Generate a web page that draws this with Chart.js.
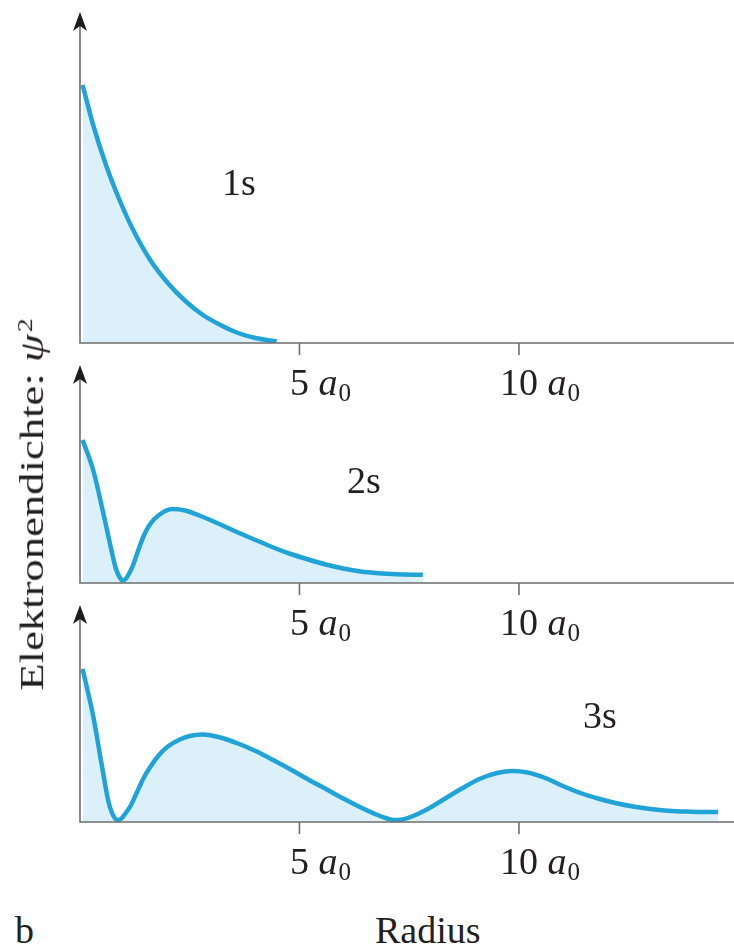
<!DOCTYPE html>
<html><head><meta charset="utf-8">
<script src="https://cdn.jsdelivr.net/npm/chart.js@4/dist/chart.umd.min.js"></script>
<style>
html,body{margin:0;padding:0;background:#fff;}
#wrap{position:relative;width:734px;height:948px;overflow:hidden;font-family:"Liberation Serif","Times New Roman",serif;color:#231f20;}
canvas{position:absolute;left:0;}
.t{position:absolute;line-height:1;white-space:nowrap;}
.t i{font-style:italic;}
.sub{font-size:0.66em;position:relative;top:0.22em;margin-left:0.04em;}
.sup{font-size:0.62em;position:relative;top:-0.55em;margin-left:0.08em;}
</style></head><body><div id="wrap">
<canvas id="c1" width="734" height="420" style="top:0px"></canvas>
<canvas id="c2" width="734" height="310" style="top:350px"></canvas>
<canvas id="c3" width="734" height="300" style="top:590px"></canvas>
</div>
<script>
// ---- data (radius in units of a0, electron density in arbitrary units) ----
const xMax = 14.9;
const tickValues = [5, 10];
const tickNumbers = ['5', '10'];
const panelNames = ['1s', '2s', '3s'];

const r1 = [0.06, 0.3, 0.6, 0.9, 1.2, 1.6, 2.0, 2.4, 2.8, 3.2, 3.6, 4.0, 4.48];
const d1 = [258, 218, 177, 143, 114, 83, 60, 42, 28, 18, 10, 5, 1.5];

const r2 = [0.06, 0.3, 0.53, 0.73, 0.82, 0.9, 0.97, 1.04, 1.12, 1.21, 1.33, 1.46, 1.6, 1.8, 2.1, 2.4, 2.8, 3.2, 3.6, 4.0, 4.4, 4.8, 5.2, 5.6, 6.0, 6.4, 6.8, 7.2, 7.81];
const d2 = [143, 113, 70, 30, 14, 6, 2.5, 4, 9.5, 18, 33, 48, 59, 68, 74, 72.5, 66, 58.5, 50.5, 43, 35.5, 29, 23.5, 18.5, 14.5, 11.5, 9.8, 8.8, 8.2];

const r3 = [0.06, 0.3, 0.5, 0.64, 0.72, 0.79, 0.86, 0.93, 1.0, 1.15, 1.3, 1.45, 1.6, 1.8, 2.0, 2.25, 2.5, 2.8, 3.2, 3.6, 4.0, 4.4, 4.8, 5.2, 5.6, 6.0, 6.4, 6.75, 7.0, 7.15, 7.3, 7.5, 7.9, 8.3, 8.7, 9.1, 9.5, 9.85, 10.2, 10.6, 11.0, 11.4, 11.8, 12.2, 12.6, 13.0, 13.4, 13.8, 14.2, 14.54];
const d3 = [153, 106, 56, 22, 10, 4, 2, 3, 6.5, 16, 30, 44, 55, 67, 75.5, 82, 86, 87.5, 84.5, 78.5, 71, 62, 52.5, 42.5, 33, 23.5, 14.5, 7.5, 3.5, 2, 2.2, 4.5, 12.5, 23, 33.5, 43, 49, 51, 49.5, 44, 36, 29, 23.5, 19, 15.5, 13, 11.3, 10.4, 10, 10];

// ---- layout ----
const panels = [
  {id:'c1', top:0,   r:r1, d:d1, padTop:12, padBottom:77, yMax:331, name:{left:222, base:195}},
  {id:'c2', top:350, r:r2, d:d2, padTop:15, padBottom:77, yMax:218, name:{left:347, base:493}},
  {id:'c3', top:590, r:r3, d:d3, padTop:15, padBottom:68, yMax:217, name:{left:583, base:728}}
];

const axesPlugin = {
  id: 'axes',
  afterDatasetsDraw(chart) {
    const {ctx, chartArea: a, scales: {x, y}} = chart;
    const y0 = y.getPixelForValue(0);
    const x0 = x.getPixelForValue(0);
    ctx.save();
    ctx.strokeStyle = '#6e6e6e';
    ctx.lineWidth = 1.6;
    ctx.beginPath();
    ctx.moveTo(x0, y0); ctx.lineTo(chart.width, y0);
    ctx.moveTo(x0, y0 + 0.8); ctx.lineTo(x0, a.top + 12);
    tickValues.forEach(v => {
      const px = x.getPixelForValue(v);
      ctx.moveTo(px, y0); ctx.lineTo(px, y0 + 12);
    });
    ctx.stroke();
    ctx.fillStyle = '#1c1c1c';
    ctx.beginPath();
    ctx.moveTo(x0, a.top);
    ctx.lineTo(x0 + 7, a.top + 19);
    ctx.lineTo(x0, a.top + 14);
    ctx.lineTo(x0 - 7, a.top + 19);
    ctx.closePath();
    ctx.fill();
    ctx.restore();
  }
};

const wrap = document.getElementById('wrap');
function addText(html, left, baseline, size) {
  const d = document.createElement('div');
  d.className = 't';
  d.style.fontSize = size + 'px';
  d.innerHTML = html;
  d.style.left = left + 'px';
  d.style.top = (baseline - 0.8375 * size) + 'px';
  wrap.appendChild(d);
  return d;
}

panels.forEach((p, idx) => {
  const chart = new Chart(document.getElementById(p.id), {
    type: 'line',
    data: {
      datasets: [{
        data: p.r.map((v, i) => ({x: v, y: p.d[i]})),
        borderColor: '#20a3d6',
        backgroundColor: '#dcf0fa',
        borderWidth: 4.5,
        fill: 'origin',
        pointRadius: 0,
        cubicInterpolationMode: 'monotone'
      }]
    },
    options: {
      responsive: false,
      animation: false,
      events: [],
      layout: {padding: {left: 80, right: 0, top: p.padTop, bottom: p.padBottom}, autoPadding: false},
      plugins: {legend: {display: false}, tooltip: {enabled: false}},
      scales: {
        x: {type: 'linear', display: false, min: 0, max: xMax},
        y: {display: false, min: 0, max: p.yMax}
      }
    },
    plugins: [axesPlugin]
  });
  const y0 = chart.scales.y.getPixelForValue(0) + p.top;
  tickValues.forEach((v, i) => {
    const px = chart.scales.x.getPixelForValue(v);
    const el = addText('<span class="n">' + tickNumbers[i] + '</span> <i>a</i><span class="sub">0</span>', 0, y0 + 52, 38);
    const nw = el.querySelector('.n').offsetWidth;
    el.style.left = (px - nw / 2) + 'px';
  });
  addText(panelNames[idx], p.name.left, p.name.base, 38);
});

addText('b', 15, 943, 38);
addText('Radius', 375, 943, 38);

// y-axis title (rotated)
const yt = addText('Elektronendichte: <i>ψ</i><span class="sup">2</span>', 0, 0, 33);
const w = yt.offsetWidth, h = yt.offsetHeight;
const k = 372 / w;
const cx = 32, cy = 504;
yt.style.left = (cx - w / 2) + 'px';
yt.style.top = (cy - h / 2) + 'px';
yt.style.transformOrigin = '50% 50%';
yt.style.transform = 'rotate(-90deg) scaleX(' + k + ')';
</script>
</body></html>
